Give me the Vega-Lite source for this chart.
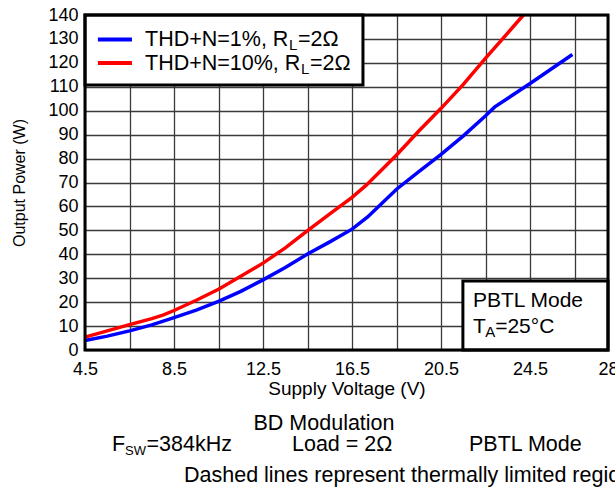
{
  "$schema": "https://vega.github.io/schema/vega-lite/v6.json",
  "width": 523,
  "height": 335,
  "autosize": {"type": "none"},
  "padding": {"left": 85, "top": 15, "right": 7, "bottom": 142},
  "background": "white",
  "resolve": {"axis": {"x": "independent", "y": "independent"}},
  "config": {
    "view": {"stroke": null},
    "font": "Liberation Sans",
    "axis": {
      "labelFont": "Liberation Sans",
      "titleFont": "Liberation Sans",
      "labelColor": "#000",
      "titleColor": "#000",
      "titleFontWeight": "normal",
      "domain": false,
      "ticks": false,
      "gridColor": "#3a3a3a",
      "gridWidth": 1.3,
      "gridOpacity": 1
    },
    "text": {"font": "Liberation Sans", "color": "#000"}
  },
  "layer": [
    {
      "data": {
        "values": [
          {"v": 4.5, "p": 4.0, "s": "THD+N=1%"},
          {"v": 5.5, "p": 5.8, "s": "THD+N=1%"},
          {"v": 6.5, "p": 8.0, "s": "THD+N=1%"},
          {"v": 7.5, "p": 10.5, "s": "THD+N=1%"},
          {"v": 8.5, "p": 13.5, "s": "THD+N=1%"},
          {"v": 9.5, "p": 16.7, "s": "THD+N=1%"},
          {"v": 10.5, "p": 20.3, "s": "THD+N=1%"},
          {"v": 11.5, "p": 24.5, "s": "THD+N=1%"},
          {"v": 12.5, "p": 29.3, "s": "THD+N=1%"},
          {"v": 13.5, "p": 34.5, "s": "THD+N=1%"},
          {"v": 14.5, "p": 40.1, "s": "THD+N=1%"},
          {"v": 15.5, "p": 45.2, "s": "THD+N=1%"},
          {"v": 16.5, "p": 50.5, "s": "THD+N=1%"},
          {"v": 17.2, "p": 55.6, "s": "THD+N=1%"},
          {"v": 18.5, "p": 67.2, "s": "THD+N=1%"},
          {"v": 19.5, "p": 74.5, "s": "THD+N=1%"},
          {"v": 20.5, "p": 81.8, "s": "THD+N=1%"},
          {"v": 21.5, "p": 89.5, "s": "THD+N=1%"},
          {"v": 22.5, "p": 97.9, "s": "THD+N=1%"},
          {"v": 22.9, "p": 101.5, "s": "THD+N=1%"},
          {"v": 24.5, "p": 111.4, "s": "THD+N=1%"},
          {"v": 26.4, "p": 123.5, "s": "THD+N=1%"},
          {"v": 4.5, "p": 5.4, "s": "THD+N=10%"},
          {"v": 5.5, "p": 8.0, "s": "THD+N=10%"},
          {"v": 6.5, "p": 10.6, "s": "THD+N=10%"},
          {"v": 7.5, "p": 13.1, "s": "THD+N=10%"},
          {"v": 8.0, "p": 14.6, "s": "THD+N=10%"},
          {"v": 8.5, "p": 16.5, "s": "THD+N=10%"},
          {"v": 9.5, "p": 20.8, "s": "THD+N=10%"},
          {"v": 10.5, "p": 25.4, "s": "THD+N=10%"},
          {"v": 11.5, "p": 30.8, "s": "THD+N=10%"},
          {"v": 12.5, "p": 36.3, "s": "THD+N=10%"},
          {"v": 13.5, "p": 42.7, "s": "THD+N=10%"},
          {"v": 14.5, "p": 49.9, "s": "THD+N=10%"},
          {"v": 15.5, "p": 56.9, "s": "THD+N=10%"},
          {"v": 16.5, "p": 63.8, "s": "THD+N=10%"},
          {"v": 17.15, "p": 69.0, "s": "THD+N=10%"},
          {"v": 18.5, "p": 81.5, "s": "THD+N=10%"},
          {"v": 19.5, "p": 91.5, "s": "THD+N=10%"},
          {"v": 20.5, "p": 101.0, "s": "THD+N=10%"},
          {"v": 21.5, "p": 111.0, "s": "THD+N=10%"},
          {"v": 22.5, "p": 122.0, "s": "THD+N=10%"},
          {"v": 23.5, "p": 132.5, "s": "THD+N=10%"},
          {"v": 24.2, "p": 140.0, "s": "THD+N=10%"}
        ]
      },
      "mark": {"type": "line", "strokeWidth": 3.5},
      "encoding": {
        "x": {
          "field": "v", "type": "quantitative",
          "scale": {"domain": [4.5, 28], "nice": false, "zero": false},
          "axis": {
            "title": "Supply Voltage (V)",
            "values": [4.5, 6.5, 8.5, 10.5, 12.5, 14.5, 16.5, 18.5, 20.5, 22.5, 24.5, 26.5, 28],
            "format": ".1~f",
            "labelExpr": "(datum.value - 4.5) % 4 == 0 || datum.value == 28 ? datum.label : ''",
            "labelFontSize": 18,
            "labelPadding": 10,
            "labelFlush": false,
            "labelOverlap": false,
            "titleFontSize": 19,
            "titlePadding": 1
          }
        },
        "y": {
          "field": "p", "type": "quantitative",
          "scale": {"domain": [0, 140], "nice": false},
          "axis": {
            "title": "Output Power (W)",
            "values": [0, 10, 20, 30, 40, 50, 60, 70, 80, 90, 100, 110, 120, 130, 140],
            "labelFontSize": 18,
            "labelPadding": 7,
            "labelOverlap": false,
            "labelFlush": false,
            "titleFontSize": 16,
            "titlePadding": 20
          }
        },
        "color": {
          "field": "s", "type": "nominal",
          "scale": {"domain": ["THD+N=1%", "THD+N=10%"], "range": ["#0000ff", "#ff0000"]},
          "legend": null
        }
      }
    },
    {
      "data": {"values": [{}]},
      "mark": {"type": "rect", "fill": "white", "stroke": "black", "strokeWidth": 3},
      "encoding": {
        "x": {"datum": 4.5, "type": "quantitative", "axis": null},
        "x2": {"datum": 16.99},
        "y": {"datum": 140, "type": "quantitative", "axis": null},
        "y2": {"datum": 110.7}
      }
    },
    {
      "data": {"values": [{}]},
      "mark": {"type": "rule", "color": "#0000ff", "strokeWidth": 4},
      "encoding": {
        "x": {"datum": 5.08, "type": "quantitative", "axis": null},
        "x2": {"datum": 6.61},
        "y": {"datum": 129.8, "type": "quantitative", "axis": null}
      }
    },
    {
      "data": {"values": [{}]},
      "mark": {"type": "rule", "color": "#ff0000", "strokeWidth": 4},
      "encoding": {
        "x": {"datum": 5.08, "type": "quantitative", "axis": null},
        "x2": {"datum": 6.61},
        "y": {"datum": 119.9, "type": "quantitative", "axis": null}
      }
    },
    {
      "data": {"values": [{}]},
      "mark": {"type": "text", "text": "THD+N=1%, R", "fontSize": 21.5, "align": "left", "baseline": "alphabetic"},
      "encoding": {
        "x": {"datum": 7.196, "type": "quantitative", "axis": null},
        "y": {"datum": 127.0, "type": "quantitative", "axis": null}
      }
    },
    {
      "data": {"values": [{}]},
      "mark": {"type": "text", "text": "L", "fontSize": 15, "align": "left", "baseline": "alphabetic"},
      "encoding": {
        "x": {"datum": 13.666, "type": "quantitative", "axis": null},
        "y": {"datum": 125.3, "type": "quantitative", "axis": null}
      }
    },
    {
      "data": {"values": [{}]},
      "mark": {"type": "text", "text": "=2Ω", "fontSize": 21.5, "align": "left", "baseline": "alphabetic"},
      "encoding": {
        "x": {"datum": 14.071, "type": "quantitative", "axis": null},
        "y": {"datum": 127.0, "type": "quantitative", "axis": null}
      }
    },
    {
      "data": {"values": [{}]},
      "mark": {"type": "text", "text": "THD+N=10%, R", "fontSize": 21.5, "align": "left", "baseline": "alphabetic"},
      "encoding": {
        "x": {"datum": 7.196, "type": "quantitative", "axis": null},
        "y": {"datum": 117.2, "type": "quantitative", "axis": null}
      }
    },
    {
      "data": {"values": [{}]},
      "mark": {"type": "text", "text": "L", "fontSize": 15, "align": "left", "baseline": "alphabetic"},
      "encoding": {
        "x": {"datum": 14.206, "type": "quantitative", "axis": null},
        "y": {"datum": 115.5, "type": "quantitative", "axis": null}
      }
    },
    {
      "data": {"values": [{}]},
      "mark": {"type": "text", "text": "=2Ω", "fontSize": 21.5, "align": "left", "baseline": "alphabetic"},
      "encoding": {
        "x": {"datum": 14.61, "type": "quantitative", "axis": null},
        "y": {"datum": 117.2, "type": "quantitative", "axis": null}
      }
    },
    {
      "data": {"values": [{}]},
      "mark": {"type": "rect", "fill": "white", "stroke": "black", "strokeWidth": 3},
      "encoding": {
        "x": {"datum": 21.48, "type": "quantitative", "axis": null},
        "x2": {"datum": 28},
        "y": {"datum": 28.8, "type": "quantitative", "axis": null},
        "y2": {"datum": 0}
      }
    },
    {
      "data": {"values": [{}]},
      "mark": {"type": "text", "text": "PBTL Mode", "fontSize": 21, "align": "left", "baseline": "alphabetic"},
      "encoding": {
        "x": {"datum": 21.93, "type": "quantitative", "axis": null},
        "y": {"datum": 18.1, "type": "quantitative", "axis": null}
      }
    },
    {
      "data": {"values": [{}]},
      "mark": {"type": "text", "text": "T", "fontSize": 21, "align": "left", "baseline": "alphabetic"},
      "encoding": {
        "x": {"datum": 21.93, "type": "quantitative", "axis": null},
        "y": {"datum": 7.1, "type": "quantitative", "axis": null}
      }
    },
    {
      "data": {"values": [{}]},
      "mark": {"type": "text", "text": "A", "fontSize": 15, "align": "left", "baseline": "alphabetic"},
      "encoding": {
        "x": {"datum": 22.48, "type": "quantitative", "axis": null},
        "y": {"datum": 5.4, "type": "quantitative", "axis": null}
      }
    },
    {
      "data": {"values": [{}]},
      "mark": {"type": "text", "text": "=25°C", "fontSize": 21, "align": "left", "baseline": "alphabetic"},
      "encoding": {
        "x": {"datum": 22.93, "type": "quantitative", "axis": null},
        "y": {"datum": 7.1, "type": "quantitative", "axis": null}
      }
    },
    {
      "data": {"values": [{}]},
      "mark": {"type": "rect", "fillOpacity": 0, "stroke": "black", "strokeWidth": 3},
      "encoding": {
        "x": {"datum": 4.5, "type": "quantitative", "axis": null},
        "x2": {"datum": 28},
        "y": {"datum": 140, "type": "quantitative", "axis": null},
        "y2": {"datum": 0}
      }
    },
    {
      "data": {"values": [{}]},
      "mark": {"type": "text", "text": "BD Modulation", "fontSize": 21.5, "align": "center", "baseline": "alphabetic"},
      "encoding": {
        "x": {"datum": 15.24, "type": "quantitative", "axis": null},
        "y": {"datum": -33.4, "type": "quantitative", "axis": null}
      }
    },
    {
      "data": {"values": [{}]},
      "mark": {"type": "text", "text": "F", "fontSize": 21.5, "align": "left", "baseline": "alphabetic"},
      "encoding": {
        "x": {"datum": 5.713, "type": "quantitative", "axis": null},
        "y": {"datum": -42.2, "type": "quantitative", "axis": null}
      }
    },
    {
      "data": {"values": [{}]},
      "mark": {"type": "text", "text": "SW", "fontSize": 13, "align": "left", "baseline": "alphabetic"},
      "encoding": {
        "x": {"datum": 6.297, "type": "quantitative", "axis": null},
        "y": {"datum": -43.9, "type": "quantitative", "axis": null}
      }
    },
    {
      "data": {"values": [{}]},
      "mark": {"type": "text", "text": "=384kHz", "fontSize": 21.5, "align": "left", "baseline": "alphabetic"},
      "encoding": {
        "x": {"datum": 7.263, "type": "quantitative", "axis": null},
        "y": {"datum": -42.2, "type": "quantitative", "axis": null}
      }
    },
    {
      "data": {"values": [{}]},
      "mark": {"type": "text", "text": "Load = 2Ω", "fontSize": 21.5, "align": "left", "baseline": "alphabetic"},
      "encoding": {
        "x": {"datum": 13.8, "type": "quantitative", "axis": null},
        "y": {"datum": -42.2, "type": "quantitative", "axis": null}
      }
    },
    {
      "data": {"values": [{}]},
      "mark": {"type": "text", "text": "PBTL Mode", "fontSize": 21.5, "align": "left", "baseline": "alphabetic"},
      "encoding": {
        "x": {"datum": 21.755, "type": "quantitative", "axis": null},
        "y": {"datum": -42.2, "type": "quantitative", "axis": null}
      }
    },
    {
      "data": {"values": [{}]},
      "mark": {"type": "text", "text": "Dashed lines represent thermally limited region", "fontSize": 21.5, "align": "left", "baseline": "alphabetic"},
      "encoding": {
        "x": {"datum": 8.948, "type": "quantitative", "axis": null},
        "y": {"datum": -55.2, "type": "quantitative", "axis": null}
      }
    }
  ]
}
